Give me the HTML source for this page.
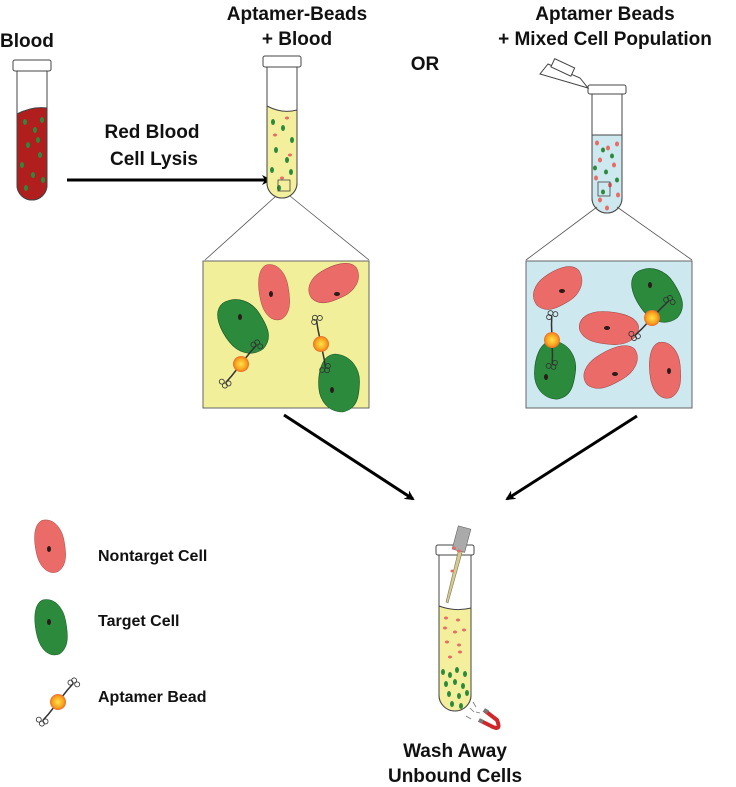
<!DOCTYPE html>
<html><head><meta charset="utf-8"><style>
html,body{margin:0;padding:0;background:#fff;}
svg{display:block;}
text{font-family:"Liberation Sans",sans-serif;font-weight:bold;fill:#111;}
</style></head><body>
<svg width="736" height="787" viewBox="0 0 736 787" xmlns="http://www.w3.org/2000/svg">
<defs>
<path id="blob" d="M-8,-27 C4,-30 12,-18 14,-6 C16,6 18,20 8,27 C-2,31 -10,22 -13,10 C-16,-2 -18,-22 -8,-27 Z"/>
<radialGradient id="bead" cx="50%" cy="50%" r="50%"><stop offset="0" stop-color="#ffe24a"/><stop offset="0.7" stop-color="#f7a21d"/><stop offset="1" stop-color="#ef6a2a"/></radialGradient>
<g id="apt"><path d="M0,0 L6,-14 L10,-22" stroke="#333" stroke-width="1.5" fill="none"/><circle cx="10" cy="-25" r="2.5" fill="none" stroke="#333" stroke-width="0.8"/><circle cx="14" cy="-22" r="2.5" fill="none" stroke="#333" stroke-width="0.8"/><circle cx="7" cy="-22" r="2.5" fill="none" stroke="#333" stroke-width="0.8"/></g>
<g id="bd"><use href="#apt"/><use href="#apt" transform="rotate(180)"/><circle r="8" fill="url(#bead)"/></g>
<marker id="ah" markerWidth="10" markerHeight="10" refX="8" refY="5" orient="auto" markerUnits="userSpaceOnUse"><path d="M0,0 L10,5 L0,10 L3,5 Z" fill="#000"/></marker>
</defs>

<!-- titles -->
<text x="0" y="47" font-size="19">Blood</text>
<text x="297" y="20" font-size="19" text-anchor="middle">Aptamer-Beads</text>
<text x="297" y="45" font-size="19" text-anchor="middle">+  Blood</text>
<text x="425" y="70" font-size="19" text-anchor="middle">OR</text>
<text x="605" y="20" font-size="19" text-anchor="middle">Aptamer Beads</text>
<text x="605" y="45" font-size="19" text-anchor="middle">+ Mixed Cell Population</text>
<text x="152" y="138" font-size="19" text-anchor="middle">Red Blood</text>
<text x="154" y="165" font-size="19" text-anchor="middle">Cell Lysis</text>

<!-- tube 1 -->
<path d="M17,70 L17,185 A15,15 0 0 0 47,185 L47,70 Z" fill="#fff" stroke="#444"/>
<path d="M17,114 Q32,106 47,108 L47,185 A15,15 0 0 1 17,185 Z" fill="#b01e1e" stroke="#444"/>
<rect x="13" y="60" width="38" height="11" rx="2" fill="#fff" stroke="#444"/>
<g fill="#2c8a3c"><ellipse cx="25" cy="122" rx="2" ry="3"/><ellipse cx="35" cy="130" rx="2" ry="3"/><ellipse cx="42" cy="120" rx="2" ry="3"/><ellipse cx="28" cy="145" rx="2" ry="3"/><ellipse cx="40" cy="155" rx="2" ry="3"/><ellipse cx="22" cy="165" rx="2" ry="3"/><ellipse cx="33" cy="175" rx="2" ry="3"/><ellipse cx="43" cy="180" rx="2" ry="3"/><ellipse cx="26" cy="188" rx="2" ry="3"/><ellipse cx="38" cy="140" rx="2" ry="3"/></g>

<line x1="67" y1="180" x2="270" y2="180" stroke="#000" stroke-width="3" marker-end="url(#ah)"/>

<!-- tube 2 -->
<path d="M267,66 L267,183 A15,15 0 0 0 297,183 L297,66 Z" fill="#fff" stroke="#444"/>
<path d="M267,106 Q282,114 297,110 L297,183 A15,15 0 0 1 267,183 Z" fill="#f3ef9c" stroke="#444"/>
<rect x="263" y="56" width="38" height="11" rx="2" fill="#fff" stroke="#444"/>
<g fill="#2c8a3c"><ellipse cx="273" cy="122" rx="2" ry="3"/><ellipse cx="283" cy="128" rx="2" ry="3"/><ellipse cx="292" cy="140" rx="2" ry="3"/><ellipse cx="276" cy="150" rx="2" ry="3"/><ellipse cx="287" cy="160" rx="2" ry="3"/><ellipse cx="272" cy="170" rx="2" ry="3"/><ellipse cx="291" cy="172" rx="2" ry="3"/><ellipse cx="279" cy="188" rx="2" ry="3"/></g>
<g fill="#e96b65"><ellipse cx="287" cy="118" rx="2" ry="1.5"/><ellipse cx="275" cy="135" rx="2" ry="1.5"/><ellipse cx="290" cy="155" rx="2" ry="1.5"/><ellipse cx="282" cy="178" rx="2" ry="1.5"/></g>
<rect x="278" y="180" width="12" height="11" fill="none" stroke="#444" stroke-width="0.8"/>
<path d="M276,196 L205,260 M290,196 L369,260" stroke="#555" stroke-width="0.8"/>

<!-- tube 3 -->
<path d="M592,93 L592,198 A15,15 0 0 0 622,198 L622,93 Z" fill="#fff" stroke="#444"/>
<path d="M592,135 L622,135 L622,198 A15,15 0 0 1 592,198 Z" fill="#cde8ee" stroke="#444"/>
<rect x="588" y="85" width="38" height="9" rx="2" fill="#fff" stroke="#444"/>
<path d="M588,88 L540,74 L548,64 L580,78 Z" fill="#fff" stroke="#444"/>
<rect x="552" y="63" width="22" height="9" transform="rotate(25 563 67)" fill="#fff" stroke="#444"/>
<g fill="#e96b65"><ellipse cx="597" cy="143" rx="2" ry="2.5"/><ellipse cx="608" cy="148" rx="2" ry="2.5"/><ellipse cx="617" cy="144" rx="2" ry="2.5"/><ellipse cx="600" cy="160" rx="2" ry="2.5"/><ellipse cx="614" cy="165" rx="2" ry="2.5"/><ellipse cx="596" cy="178" rx="2" ry="2.5"/><ellipse cx="610" cy="185" rx="2" ry="2.5"/><ellipse cx="618" cy="195" rx="2" ry="2.5"/><ellipse cx="600" cy="200" rx="2" ry="2.5"/><ellipse cx="607" cy="208" rx="2" ry="2.5"/></g>
<g fill="#2c8a3c"><ellipse cx="603" cy="150" rx="2" ry="2.5"/><ellipse cx="612" cy="156" rx="2" ry="2.5"/><ellipse cx="595" cy="168" rx="2" ry="2.5"/><ellipse cx="606" cy="172" rx="2" ry="2.5"/><ellipse cx="617" cy="180" rx="2" ry="2.5"/><ellipse cx="603" cy="192" rx="2" ry="2.5"/></g>
<rect x="598" y="182" width="12" height="14" fill="none" stroke="#444" stroke-width="0.8"/>
<path d="M597,207 L526,260 M617,207 L692,260" stroke="#555" stroke-width="0.8"/>

<!-- box 1 -->
<rect x="203" y="261" width="166" height="147" fill="#f2ef9a" stroke="#666"/>
<g stroke="#a04848" stroke-width="0.5" fill="#ea6b67">
<use href="#blob" transform="translate(274,292)"/>
<use href="#blob" transform="translate(334,283) rotate(75) scale(1.1,0.95)"/>
</g>
<g stroke="#1a5a28" stroke-width="0.5" fill="#2b8a3b">
<use href="#blob" transform="translate(243,326) rotate(-20) scale(1.4,1.05)"/>
<use href="#blob" transform="translate(339,383) rotate(15) scale(1.4,1)"/>
</g>
<g fill="#2b1a1a"><ellipse cx="271" cy="294" rx="2" ry="3"/><ellipse cx="337" cy="294" rx="3" ry="2"/><ellipse cx="240" cy="317" rx="2" ry="3"/><ellipse cx="332" cy="390" rx="2" ry="3"/></g>
<use href="#bd" transform="translate(241,364) rotate(15)"/>
<use href="#bd" transform="translate(321,344) rotate(-35)"/>

<!-- box 2 -->
<rect x="526" y="261" width="166" height="147" fill="#cde8ee" stroke="#666"/>
<g stroke="#a04848" stroke-width="0.5" fill="#ea6b67">
<use href="#blob" transform="translate(558,288) rotate(70) scale(1.15,0.95)"/>
<use href="#blob" transform="translate(609,328) rotate(105) scale(1.1,1.05)"/>
<use href="#blob" transform="translate(611,367) rotate(70) scale(1.1,1.05)"/>
<use href="#blob" transform="translate(665,370) rotate(5) scale(1.05,1)"/>
</g>
<g stroke="#1a5a28" stroke-width="0.5" fill="#2b8a3b">
<use href="#blob" transform="translate(657,295) rotate(-20) scale(1.4,1.05)"/>
<use href="#blob" transform="translate(555,370) rotate(20) scale(1.4,1)"/>
</g>
<g fill="#2b1a1a"><ellipse cx="562" cy="291" rx="3" ry="2"/><ellipse cx="607" cy="328" rx="3" ry="2"/><ellipse cx="615" cy="374" rx="3" ry="2"/><ellipse cx="669" cy="371" rx="2" ry="3"/><ellipse cx="650" cy="285" rx="2" ry="3"/><ellipse cx="546" cy="377" rx="2" ry="3"/></g>
<use href="#bd" transform="translate(552,340) rotate(-25)"/>
<use href="#bd" transform="translate(652,318) rotate(20)"/>

<!-- arrows -->
<line x1="284" y1="415" x2="413" y2="499" stroke="#000" stroke-width="3" marker-end="url(#ah)"/>
<line x1="637" y1="416" x2="507" y2="499" stroke="#000" stroke-width="3" marker-end="url(#ah)"/>

<!-- legend -->
<g stroke="#a04848" stroke-width="0.5" fill="#ea6b67"><use href="#blob" transform="translate(50,546) scale(1,0.95)"/></g>
<g stroke="#1a5a28" stroke-width="0.5" fill="#2b8a3b"><use href="#blob" transform="translate(51,627) scale(1.05,1)"/></g>
<ellipse cx="49" cy="549" rx="2" ry="3" fill="#2b1a1a"/>
<ellipse cx="49" cy="622" rx="2" ry="3" fill="#2b1a1a"/>
<use href="#bd" transform="translate(58,702) rotate(15)"/>
<text x="98" y="561" font-size="16">Nontarget Cell</text>
<text x="98" y="626" font-size="16">Target Cell</text>
<text x="98" y="702" font-size="16">Aptamer Bead</text>

<!-- bottom tube -->
<path d="M439,553 L439,695 A16,16 0 0 0 471,695 L471,553 Z" fill="#fff" stroke="#444"/>
<path d="M439,606 Q455,612 471,608 L471,695 A16,16 0 0 1 439,695 Z" fill="#f3ef9c" stroke="#444"/>
<rect x="436" y="545" width="38" height="10" rx="2" fill="#fff" stroke="#444"/>
<path d="M461,540 L446,602 L448,603 L465,542 Z" fill="#d8cc84" stroke="#777" stroke-width="0.6"/>
<rect x="455" y="527" width="13" height="24" transform="rotate(15 461 539)" fill="#aaa" stroke="#666" stroke-width="0.6"/>
<g fill="#e96b65"><ellipse cx="446" cy="618" rx="2" ry="1.5"/><ellipse cx="458" cy="620" rx="2" ry="1.5"/><ellipse cx="445" cy="628" rx="2" ry="1.5"/><ellipse cx="455" cy="632" rx="2" ry="1.5"/><ellipse cx="464" cy="630" rx="2" ry="1.5"/><ellipse cx="447" cy="642" rx="2" ry="1.5"/><ellipse cx="459" cy="645" rx="2" ry="1.5"/><ellipse cx="450" cy="657" rx="2" ry="1.5"/><ellipse cx="460" cy="652" rx="2" ry="1.5"/><ellipse cx="454" cy="548" rx="2" ry="1.5"/><ellipse cx="459" cy="551" rx="2" ry="1.5"/><ellipse cx="452" cy="571" rx="1.5" ry="1.5"/></g>
<g fill="#2c8a3c"><ellipse cx="443" cy="672" rx="2" ry="3"/><ellipse cx="450" cy="675" rx="2" ry="3"/><ellipse cx="457" cy="670" rx="2" ry="3"/><ellipse cx="465" cy="674" rx="2" ry="3"/><ellipse cx="446" cy="684" rx="2" ry="3"/><ellipse cx="455" cy="682" rx="2" ry="3"/><ellipse cx="463" cy="686" rx="2" ry="3"/><ellipse cx="449" cy="694" rx="2" ry="3"/><ellipse cx="459" cy="696" rx="2" ry="3"/><ellipse cx="467" cy="693" rx="2" ry="3"/><ellipse cx="452" cy="704" rx="2" ry="3"/><ellipse cx="461" cy="706" rx="2" ry="3"/></g>
<path d="M479,720 L491,726 Q502,732 497,720 L484,710" fill="none" stroke="#d0282a" stroke-width="4"/>
<path d="M479,720 L483,722 M484,710 L488,712" stroke="#777" stroke-width="4"/>
<path d="M466,716 l5,3 M470,708 l4,4 M473,702 l3,5 M476,712 l4,1" stroke="#777" stroke-width="0.8"/>
<text x="455" y="757" font-size="19" text-anchor="middle">Wash Away</text>
<text x="455" y="782" font-size="19" text-anchor="middle">Unbound Cells</text>
</svg>
</body></html>
